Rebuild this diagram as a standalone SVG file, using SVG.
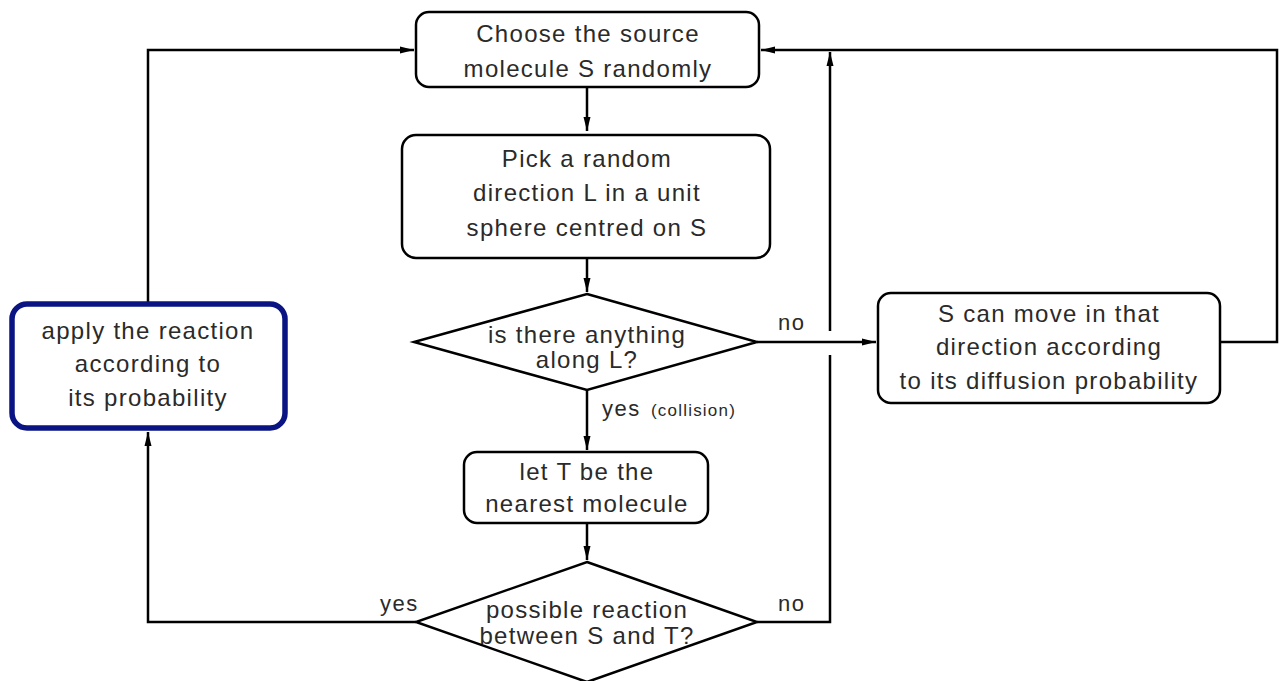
<svg xmlns="http://www.w3.org/2000/svg" width="1279" height="681" viewBox="0 0 1279 681">
<defs>
<marker id="ah" viewBox="0 0 14 8" refX="14" refY="4" markerWidth="14" markerHeight="9" markerUnits="userSpaceOnUse" orient="auto">
<path d="M0,0.5 L14,4 L0,7.5 Z" fill="#000"/>
</marker>
<style>
.box{fill:#fff;stroke:#000;stroke-width:2.5}
.blue{fill:#fff;stroke:#0a1482;stroke-width:5.5}
.c{fill:none;stroke:#000;stroke-width:2.5}
text{font-family:"Liberation Sans",Arial,sans-serif;font-size:24px;fill:#2a2a2a;letter-spacing:1.3px;text-anchor:middle}
.lbl{font-size:22px;text-anchor:start;letter-spacing:1.5px}
.sm{font-size:17px;text-anchor:start;letter-spacing:1.2px}
</style>
</defs>
<rect width="1279" height="681" fill="#fff"/>
<g id="connectors">
<path class="c" d="M587,87 V131" marker-end="url(#ah)"/>
<path class="c" d="M587,258 V292" marker-end="url(#ah)"/>
<path class="c" d="M757,342 H876" marker-end="url(#ah)"/>
<path class="c" d="M587,390 V450" marker-end="url(#ah)"/>
<path class="c" d="M587,523 V560" marker-end="url(#ah)"/>
<path class="c" d="M1220,342 H1277 V50 H761" marker-end="url(#ah)"/>
<path class="c" d="M757,622 H830 V355"/>
<path class="c" d="M830,331 V52" marker-end="url(#ah)"/>
<path class="c" d="M416,622 H148 V432" marker-end="url(#ah)"/>
<path class="c" d="M148,303 V50 H414" marker-end="url(#ah)"/>
</g>
<g id="n-choose">
<rect class="box" x="416" y="12" width="343" height="75" rx="13"/>
<text x="588" y="42">Choose the source</text>
<text x="588" y="77">molecule S randomly</text>
</g>
<g id="n-pick">
<rect class="box" x="402" y="135" width="368" height="123" rx="14"/>
<text x="587" y="167">Pick a random</text>
<text x="587" y="201">direction L in a unit</text>
<text x="587" y="236">sphere centred on S</text>
</g>
<g id="n-anything">
<path class="box" d="M587,294 L757,342 L587,390 L414,342 Z"/>
<text x="587" y="343">is there anything</text>
<text x="587" y="368">along L?</text>
</g>
<g id="n-move">
<rect class="box" x="878" y="293" width="342" height="110" rx="13"/>
<text x="1049" y="322">S can move in that</text>
<text x="1049" y="355">direction according</text>
<text x="1049" y="389">to its diffusion probability</text>
</g>
<g id="n-nearest">
<rect class="box" x="464" y="452" width="244" height="71" rx="13"/>
<text x="587" y="480">let T be the</text>
<text x="587" y="512">nearest molecule</text>
</g>
<g id="n-possible">
<path class="box" d="M587,562 L757,622 L587,682 L416,622 Z"/>
<text x="587" y="618">possible reaction</text>
<text x="587" y="644">between S and T?</text>
</g>
<g id="n-apply">
<rect class="blue" x="12" y="304" width="273" height="124" rx="15"/>
<text x="148" y="339">apply the reaction</text>
<text x="148" y="372">according to</text>
<text x="148" y="406">its probability</text>
</g>
<g id="labels">
<text class="lbl" x="778" y="330">no</text>
<text class="lbl" x="602" y="416">yes</text>
<text class="sm" x="651" y="416">(collision)</text>
<text class="lbl" x="778" y="611">no</text>
<text class="lbl" x="380" y="611">yes</text>
</g>
</svg>
